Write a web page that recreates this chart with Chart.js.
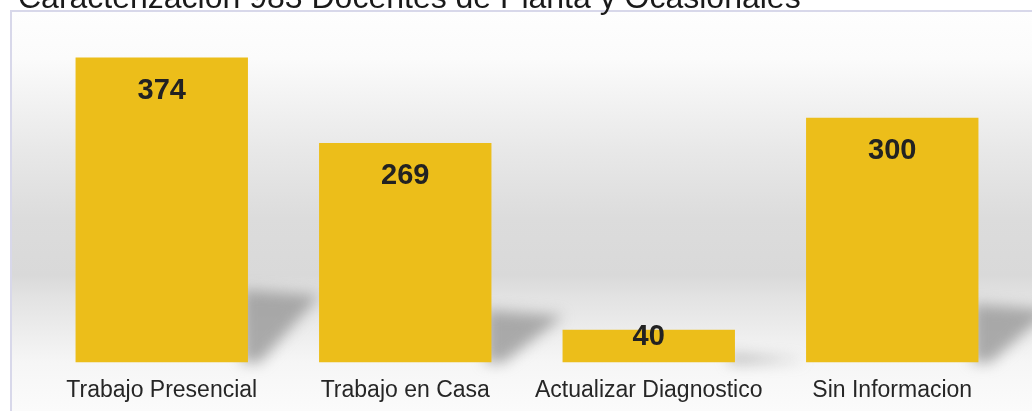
<!DOCTYPE html>
<html>
<head>
<meta charset="utf-8">
<script src="https://cdn.jsdelivr.net/npm/chart.js@4"></script>
<style>
	html, body { margin: 0; padding: 0; background: #ffffff; overflow: hidden; }
	#wrap { position: relative; width: 1032px; height: 422px; }
</style>
</head>
<body>
<div id="wrap"><canvas id="chart"></canvas></div>
<script>
const titleText = 'Caracterizacion 983 Docentes de Planta y Ocasionales';
const categories = ['Trabajo Presencial', 'Trabajo en Casa', 'Actualizar Diagnostico', 'Sin Informacion'];
const values = [374, 269, 40, 300];

const barColor = '#ECBE1A';

// fondo degradado, marco, sombras y titulo
const decor = {
	id: 'decor',
	beforeDraw(chart) {
		const { ctx } = chart;
		ctx.save();
		const g = ctx.createLinearGradient(0, 10, 0, 411);
		g.addColorStop(0, '#fefefe');
		g.addColorStop(0.12, '#fbfbfb');
		g.addColorStop(0.35, '#e8e8e8');
		g.addColorStop(0.52, '#dcdcdc');
		g.addColorStop(0.66, '#d9d9d9');
		g.addColorStop(0.72, '#e3e3e3');
		g.addColorStop(0.82, '#efefef');
		g.addColorStop(0.88, '#f6f6f6');
		g.addColorStop(1, '#fbfbfb');
		ctx.fillStyle = g;
		ctx.fillRect(10, 10, 1022, 420);
		ctx.strokeStyle = '#d8d8ea';
		ctx.lineWidth = 2;
		ctx.beginPath();
		ctx.moveTo(11, 422);
		ctx.lineTo(11, 11);
		ctx.lineTo(1032, 11);
		ctx.stroke();
		ctx.restore();
	},
	beforeDatasetsDraw(chart) {
		const { ctx } = chart;
		const meta = chart.getDatasetMeta(0);
		ctx.save();
		ctx.filter = 'blur(7px)';
		ctx.fillStyle = 'rgba(145,145,145,0.75)';
		meta.data.forEach((bar) => {
			const right = bar.x + bar.width / 2;
			const h = bar.base - bar.y;
			const s = h * 0.24;
			ctx.beginPath();
			ctx.moveTo(right - 6, bar.base);
			ctx.lineTo(right - 6, bar.base - s);
			ctx.lineTo(right + 72, bar.base - s + 6);
			ctx.lineTo(right + 12, bar.base);
			ctx.closePath();
			ctx.fill();
		});
		ctx.restore();
	},
	afterDatasetsDraw(chart) {
		const { ctx } = chart;
		const meta = chart.getDatasetMeta(0);
		ctx.save();
		ctx.font = 'bold 29px "Liberation Sans", Arial, sans-serif';
		ctx.fillStyle = '#222222';
		ctx.textAlign = 'center';
		ctx.textBaseline = 'alphabetic';
		meta.data.forEach((bar, i) => {
			const y = Math.min(bar.y + 41, bar.base - 17);
			ctx.fillText(String(values[i]), bar.x, y);
		});
		ctx.font = '32px "Liberation Sans", Arial, sans-serif';
		ctx.textAlign = 'left';
		ctx.fillStyle = '#1a1a1a';
		ctx.fillText(titleText, 18, 8);
		ctx.restore();
	},
};

new Chart(document.getElementById('chart'), {
	type: 'bar',
	data: {
		labels: categories,
		datasets: [
			{
				data: values,
				backgroundColor: barColor,
				borderWidth: 0,
				barPercentage: 0.708,
				categoryPercentage: 1,
			},
		],
	},
	plugins: [decor],
	options: {
		responsive: true,
		maintainAspectRatio: false,
		animation: false,
		layout: { padding: { left: 40, right: 18, top: 20, bottom: 4 } },
		plugins: {
			legend: { display: false },
			tooltip: { enabled: false },
			title: { display: false },
		},
		scales: {
			x: {
				grid: { display: false, drawTicks: false },
				border: { display: false },
				ticks: {
					color: '#262626',
					padding: 14,
					maxRotation: 0,
					autoSkip: false,
					font: { family: '"Liberation Sans", Arial, sans-serif', size: 23 },
				},
			},
			y: {
				display: false,
				min: 0,
				max: 420,
			},
		},
	},
});
</script>
</body>
</html>
